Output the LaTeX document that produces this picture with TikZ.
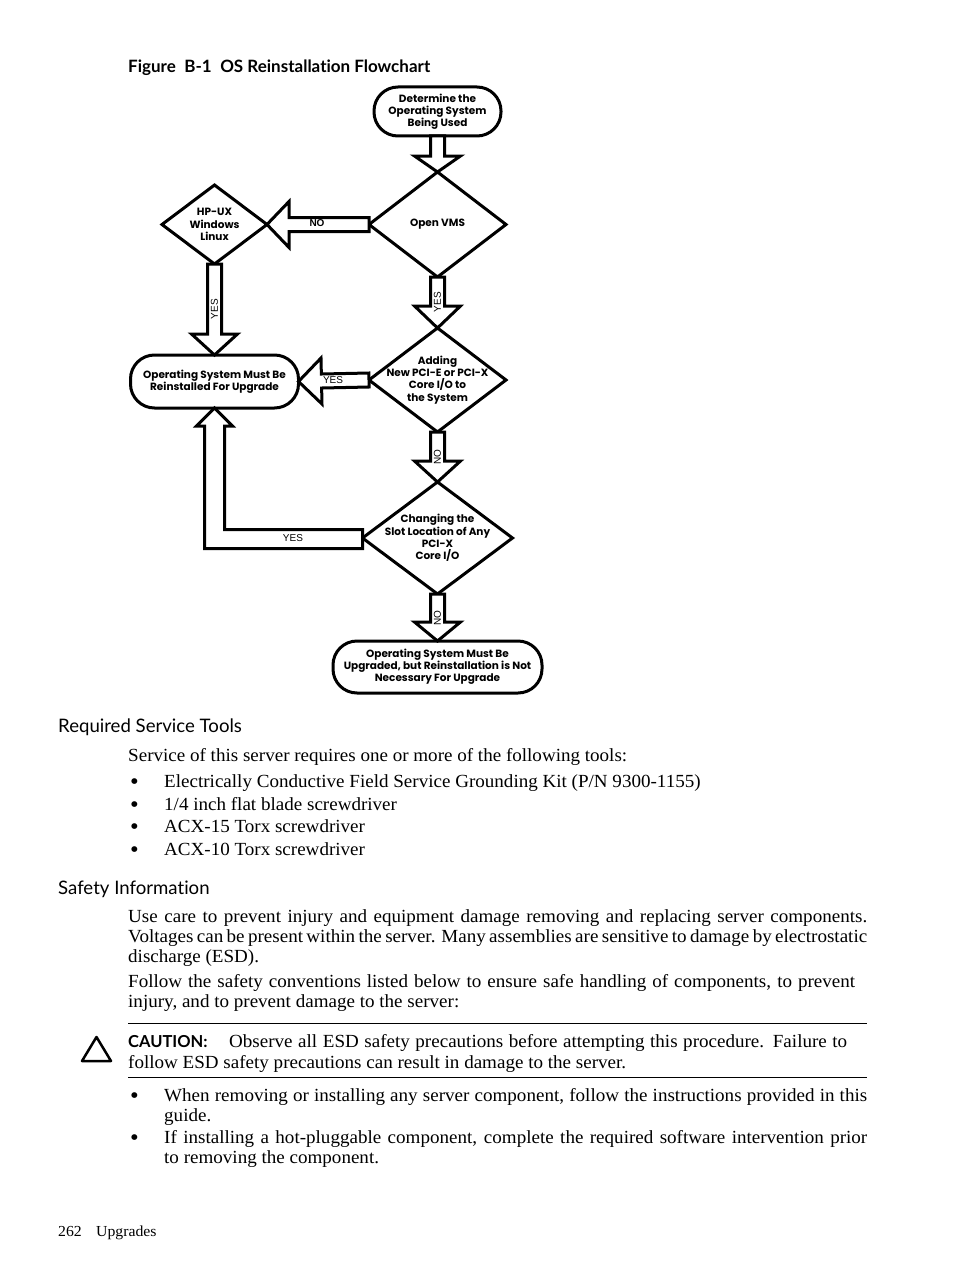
\documentclass[tikz,border=0pt]{standalone}
\usepackage{fontspec}
\setmainfont{Liberation Serif}[FakeStretch=1.03]
\setsansfont{Lato}[Ligatures=NoCommon]
\newfontfamily\chartfamily{Poppins}
\newfontfamily\arrowfamily{Liberation Sans}
\usetikzlibrary{positioning,calc,shapes.geometric}
\begin{document}
\begin{tikzpicture}[x=1pt,y=-1pt,
term/.style={
	rectangle,minimum width=#1,rounded corners=24pt,
	draw=black,line width=3pt,inner sep=0pt,outer sep=0pt,align=center,
	font=\chartfamily\bfseries\fontsize{10.5}{12.2}\selectfont},
choice/.style={
	diamond,inner sep=0pt,outer sep=0pt,
	draw=black,line width=3pt},
choicetext/.style={align=center,inner sep=0pt,
	font=\chartfamily\bfseries\fontsize{10.5}{12.2}\selectfont},
flowlabel/.style={inner sep=0pt,font=\arrowfamily\fontsize{10}{10}\selectfont},
flowshape/.style={draw=black,fill=white,line width=3pt},
flowarrow/.style={flowshape,
	to path={
	($(\tikztostart)!7pt!90:(\tikztotarget)$)
	-- ($($(\tikztotarget)!#1!(\tikztostart)$)!7pt!90:(\tikztotarget)$)
	-- ($($(\tikztotarget)!#1!(\tikztostart)$)!23pt!90:(\tikztotarget)$)
	-- (\tikztotarget)
	-- ($($(\tikztotarget)!#1!(\tikztostart)$)!23pt!-90:(\tikztotarget)$)
	-- ($($(\tikztotarget)!#1!(\tikztostart)$)!7pt!-90:(\tikztotarget)$)
	-- ($(\tikztostart)!7pt!-90:(\tikztotarget)$) -- cycle}},
line/.style={anchor=base west,inner sep=0pt,font=\fontsize{18.5}{20}\selectfont},
bulletmark/.style={anchor=base west,inner sep=0pt,yshift=-2pt,font=\fontsize{24}{24}\selectfont},
heading/.style={anchor=base west,inner sep=0pt,font=\sffamily\fontsize{18.6}{20}\selectfont},
strong/.style={anchor=base west,inner sep=0pt,font=\sffamily\bfseries\fontsize{#1}{20}\selectfont},
rule/.style={line width=0.8pt}
]
\useasboundingbox (0,0) rectangle (954,1271);

\node[strong=17] (title) at (128,73) {Figure\enspace B-1\enspace OS Reinstallation Flowchart};

% the chart
\node[term=127pt,minimum height=49pt] (start) at (437.5,111.5) {Determine the\\Operating System\\Being Used};
\node[choice,minimum width=137pt,minimum height=105pt,below=36pt of start,
	label={[choicetext]center:Open VMS}] (open) {};
\node[choice,minimum width=105pt,minimum height=79pt,left=102pt of open,
	label={[choicetext]center:{HP-UX\\Windows\\Linux}}] (other) {};
\node[term=168pt,minimum height=53pt,below=91pt of other] (reinstall) {Operating System Must Be\\Reinstalled For Upgrade};
\node[choice,minimum width=137pt,minimum height=104pt,below=51pt of open,
	label={[choicetext]center:{Adding\\New PCI-E or PCI-X\\Core I/O to\\the System}}] (adding) {};
\node[choice,minimum width=150pt,minimum height=112pt,below=50pt of adding,
	label={[choicetext]center:{Changing the\\Slot Location of Any\\PCI-X\\Core I/O}}] (changing) {};
\node[term=209pt,minimum height=52pt,below=47pt of changing] (upgrade) {Operating System Must Be\\Upgraded, but Reinstallation is Not\\Necessary For Upgrade};

\draw[flowarrow=16pt] (start.south) to (open.north);
\draw[flowarrow=22pt] (open.west) to (other.east);
\draw[flowarrow=21pt] (other.south) to (reinstall.north);
\draw[flowarrow=22pt] (open.south) to (adding.north);
\draw[flowarrow=23pt] (adding.west) to (reinstall.east);
\draw[flowarrow=21pt] (adding.south) to (changing.north);
\draw[flowarrow=19pt] (changing.south) to (upgrade.north);
\draw[flowshape] ($(changing.west)+(0,-8.5)$) -| ($(reinstall.south)+(10,18)$) -- ++(8,0) -- (reinstall.south) -- ++(-18,18) -- ++(8,0) |- ($(changing.west)+(0,10.5)$) -- cycle;

\node[flowlabel,font=\arrowfamily\bfseries\fontsize{10}{10}\selectfont] (nolabel) at (317,223) {NO};
\node[flowlabel,rotate=90] (yeslabel) at (214.5,309) {YES};
\node[flowlabel,rotate=90] (yesopen) at (437.5,302) {YES};
\node[flowlabel] (yesadding) at (333,380) {YES};
\node[flowlabel,rotate=90] (noadding) at (437.5,457) {NO};
\node[flowlabel] (yeschanging) at (293,538) {YES};
\node[flowlabel,rotate=90] (nochanging) at (437.5,618) {NO};

% the text of the page
\node[heading] (tools) at (58,732) {Required Service Tools};
\node[line] (toolsintro) at (128,761) {Service of this server requires one or more of the following tools:};
\node[bulletmark] (bulletone) at (130,787) {•};
\node[line] (itemone) at (164,787) {Electrically Conductive Field Service Grounding Kit (P/N 9300-1155)};
\node[bulletmark] (bullettwo) at (130,810) {•};
\node[line] (itemtwo) at (164,810) {1/4 inch flat blade screwdriver};
\node[bulletmark] (bulletthree) at (130,832) {•};
\node[line] (itemthree) at (164,832) {ACX-15 Torx screwdriver};
\node[bulletmark] (bulletfour) at (130,855) {•};
\node[line] (itemfour) at (164,855) {ACX-10 Torx screwdriver};

\node[heading] (safety) at (58,894) {Safety Information};
\node[line] (careone) at (128,922) {\hbox to 739pt{Use care to prevent injury and equipment damage removing and replacing server components.}};
\node[line] (caretwo) at (128,942) {\hbox to 739pt{Voltages can be present within the server. Many assemblies are sensitive to damage by electrostatic}};
\node[line] (carethree) at (128,962) {discharge (ESD).};
\node[line] (followone) at (128,987) {\hbox to 727pt{Follow the safety conventions listed below to ensure safe handling of components, to prevent}};
\node[line] (followtwo) at (128,1007) {injury, and to prevent damage to the server:};

\draw[rule] (128,1023) -- (867,1023);
\draw[line width=2.5pt,line join=round] (96.5,1037) -- (82,1061) -- (111,1061) -- cycle;
\node[strong=16.5] (caution) at (128,1047) {CAUTION:};
\node[line] (cautionone) at (229,1047) {\hbox to 618pt{Observe all ESD safety precautions before attempting this procedure. Failure to}};
\node[line] (cautiontwo) at (128,1068) {follow ESD safety precautions can result in damage to the server.};
\draw[rule] (128,1077) -- (867,1077);

\node[bulletmark] (bulletfive) at (130,1101) {•};
\node[line] (itemfive) at (164,1101) {\hbox to 703pt{When removing or installing any server component, follow the instructions provided in this}};
\node[line] (itemfivemore) at (164,1121) {guide.};
\node[bulletmark] (bulletsix) at (130,1143) {•};
\node[line] (itemsix) at (164,1143) {\hbox to 703pt{If installing a hot-pluggable component, complete the required software intervention prior}};
\node[line] (itemsixmore) at (164,1163) {to removing the component.};

\node[line,font=\fontsize{15.3}{16}\selectfont] (page) at (58,1236) {262};
\node[line,font=\fontsize{15.3}{16}\selectfont] (chapter) at (96,1236) {Upgrades};
\end{tikzpicture}
\end{document}
